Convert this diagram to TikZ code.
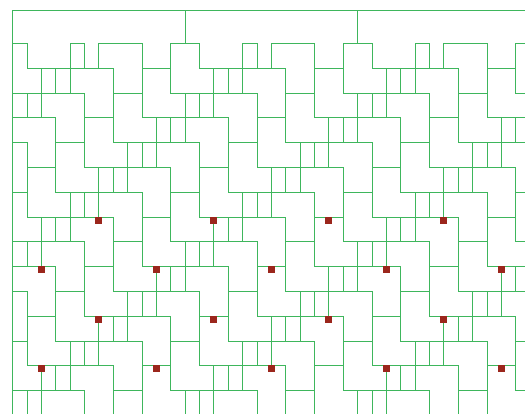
\documentclass[tikz,border=0pt]{standalone}
\definecolor{tilegreen}{RGB}{62,182,92}
\definecolor{markred}{RGB}{155,38,28}
\begin{document}
\begin{tikzpicture}[x=1pt,y=-1pt,
  declare function={gx(\i)=floor(12.7+14.375*\i)+0.5; gy(\j)=floor(43.5+24.8*\j)+0.5;}]
\tikzset{tileline/.style={draw=tilegreen, line width=1.3pt},
         framelne/.style={draw=tilegreen, line width=1.3pt},
         redsq/.style={fill=markred}}
\useasboundingbox (0,0) rectangle (525,414);
\begin{scope}
\clip (12,10) rectangle (525,414);
 \foreach \r in {0,...,14}{
  \foreach \k in {-1,...,5}{
   \pgfmathtruncatemacro\b{-2*\r+12*\k}
   \draw[tileline] ({gx(\b+4)},{gy(\r)}) rectangle ({gx(\b+5)},{gy(\r+1)});
   \ifnum\r>0
     \draw[tileline] ({gx(\b+5)},{gy(\r)}) rectangle ({gx(\b+6)},{gy(\r+1)});
   \fi
   \draw[tileline] ({gx(\b+6)},{gy(\r)}) -- ({gx(\b+9)},{gy(\r)}) -- ({gx(\b+9)},{gy(\r+2)}) -- ({gx(\b+7)},{gy(\r+2)}) -- ({gx(\b+7)},{gy(\r+1)}) -- ({gx(\b+6)},{gy(\r+1)}) -- cycle;
   \draw[tileline] ({gx(\b+11)},{gy(\r)}) -- ({gx(\b+13)},{gy(\r)}) -- ({gx(\b+13)},{gy(\r+1)}) -- ({gx(\b+14)},{gy(\r+1)}) -- ({gx(\b+14)},{gy(\r+2)}) -- ({gx(\b+11)},{gy(\r+2)}) -- cycle;
  }
 }
 \foreach \j/\st in {7/6, 9/2, 11/6, 13/2}{
  \foreach \k in {0,...,4}{
   \pgfmathtruncatemacro\xx{\st+8*\k}
   \fill[redsq] ({gx(\xx)-3.5},{gy(\j)-0.5}) rectangle ++(7,7);
  }
 }
\end{scope}
\draw[framelne] ({gx(0)},414) -- ({gx(0)},10.5) -- (525,10.5);
\draw[framelne] ({gx(12)},10.5) -- ({gx(12)},{gy(0)});
\draw[framelne] ({gx(24)},10.5) -- ({gx(24)},{gy(0)});
\end{tikzpicture}
\end{document}
